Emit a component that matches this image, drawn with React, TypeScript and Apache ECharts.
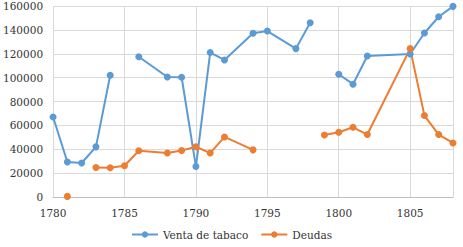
import React, { useEffect, useRef } from "react";
import * as echarts from "echarts";

const years = [1780, 1781, 1782, 1783, 1784, 1785, 1786, 1788, 1789, 1790, 1791, 1792, 1794, 1795, 1797, 1798, 1799, 1800, 1801, 1802, 1805, 1806, 1807, 1808];
const ventaTabaco: (number | null)[] = [67000, 29300, 28500, 42000, 102000, null, 117500, 100500, 100300, 25500, 121000, 114800, 137100, 139000, 124300, 146000, null, 102800, 94500, 118100, 119800, 137400, 151000, 159700];
const deudas: (number | null)[] = [null, 500, null, 24700, 24500, 26200, 38700, 36800, 38900, 42100, 36800, 50300, 39500, null, null, null, 52000, 54300, 58400, 52300, 124300, 68200, 52300, 45300];
const seriesNames = ["Venta de tabaco", "Deudas"];
const yMin = 0;
const yMax = 160000;
const yStep = 20000;
const xMin = 1780;
const xMax = 1808;
const xStep = 5;

const FONT = "DejaVu Serif";
const FS = 10.5;

export default function App() {
  const ref = useRef<HTMLDivElement>(null);
  useEffect(() => {
    if (!ref.current) return;
    const chart = echarts.init(ref.current, null, { renderer: "svg" });
    const mk = (vals: (number | null)[]) => years.map((y, i) => [y, vals[i]]);
    chart.setOption({
      animation: false,
      textStyle: { fontFamily: FONT },
      grid: { left: 53, right: 10, top: 6, bottom: 50, containLabel: false },
      legend: {
        data: seriesNames,
        bottom: 2,
        left: "center",
        itemWidth: 26,
        itemHeight: 8,
        itemGap: 12,
        textStyle: { fontFamily: FONT, fontSize: FS, color: "#333" },
      },
      xAxis: {
        type: "value",
        min: xMin,
        max: xMax,
        interval: xStep,
        axisLine: { show: true, lineStyle: { color: "#BFBFBF", width: 1 } },
        axisTick: { show: false },
        splitLine: { show: true, lineStyle: { color: "#D9D9D9", width: 1 } },
        axisLabel: {
          fontFamily: FONT,
          fontSize: FS,
          color: "#333",
          margin: 10,
          showMaxLabel: false,
          formatter: (v: number) => String(v),
        },
      },
      yAxis: {
        type: "value",
        min: yMin,
        max: yMax,
        interval: yStep,
        axisLine: { show: false },
        axisTick: { show: false },
        splitLine: { show: true, lineStyle: { color: "#D9D9D9", width: 1 } },
        axisLabel: {
          fontFamily: FONT,
          fontSize: FS,
          color: "#333",
          margin: 10,
          formatter: (v: number) => String(v),
        },
      },
      series: [
        {
          name: seriesNames[0],
          type: "line",
          data: mk(ventaTabaco),
          connectNulls: false,
          symbol: "circle",
          symbolSize: 7,
          itemStyle: { color: "#5B9BD5" },
          lineStyle: { color: "#5B9BD5", width: 2 },
        },
        {
          name: seriesNames[1],
          type: "line",
          data: mk(deudas),
          connectNulls: false,
          symbol: "circle",
          symbolSize: 7,
          itemStyle: { color: "#ED7D31" },
          lineStyle: { color: "#ED7D31", width: 2 },
        },
      ],
    });
    return () => chart.dispose();
  }, []);
  return <div ref={ref} style={{ width: 463, height: 247, position: "absolute", left: 0, top: 0 }} />;
}
